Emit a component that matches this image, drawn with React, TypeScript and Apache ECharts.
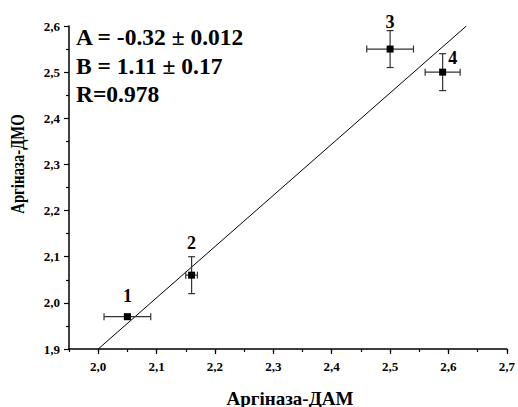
import React, { useEffect, useRef } from "react";
import * as echarts from "echarts";

// Measurements: arginase activity, ДАМ (x) vs ДМО (y)
const xVals = [2.05, 2.16, 2.5, 2.59];
const yVals = [1.97, 2.06, 2.55, 2.5];
const xErr = [0.04, 0.01, 0.04, 0.03];
const yErr = [0.005, 0.04, 0.04, 0.04];
const pointLabels = ["1", "2", "3", "4"];

// Linear fit y = A + B·x
const fitA = -0.32;
const fitB = 1.11;
const fitText = ["A = -0.32 ± 0.012", "B = 1.11 ± 0.17", "R=0.978"];

const xMin = 1.95;
const xMax = 2.7;
const yMin = 1.9;
const yMax = 2.6;
const xTicks = [2.0, 2.1, 2.2, 2.3, 2.4, 2.5, 2.6, 2.7];

const xTitle = "Аргіназа-ДАМ";
const yTitle = "Аргіназа-ДМО";

const SERIF = "Liberation Serif, Times New Roman, serif";

const labelStyle = [
  { distance: 8, offset: [0, 0] },
  { distance: 20, offset: [0, 0] },
  { distance: 15, offset: [0, 0] },
  { distance: 2, offset: [10, 0] },
];

const fmt = (v: number) => v.toFixed(1).replace(".", ",");

export default function App() {
  const ref = useRef<HTMLDivElement>(null);

  useEffect(() => {
    if (!ref.current) return;
    const chart = echarts.init(ref.current, null, { renderer: "svg" });

    const fitStartX = (yMin - fitA) / fitB;
    const fitEndX = (yMax - fitA) / fitB;
    const fitLine = [
      [fitStartX, fitA + fitB * fitStartX],
      [fitEndX, fitA + fitB * fitEndX],
    ];

    const axisText = {
      fontFamily: SERIF,
      fontWeight: "bold" as const,
      fontSize: 13,
      color: "#000",
    };

    chart.setOption({
      animation: false,
      grid: { left: 69, top: 26, right: 9, bottom: 58, containLabel: false },
      xAxis: [
        {
          type: "value",
          min: xMin,
          max: xMax,
          interval: 0.05,
          position: "bottom",
          axisLine: { show: true, lineStyle: { color: "#000", width: 1.5 } },
          axisTick: { show: true, length: 3, lineStyle: { color: "#000", width: 1.2 } },
          axisLabel: { show: false },
          splitLine: { show: false },
        },
        {
          type: "value",
          min: xMin,
          max: xMax,
          position: "bottom",
          axisLine: { show: false },
          axisTick: {
            show: true,
            length: 5,
            customValues: xTicks,
            lineStyle: { color: "#000", width: 1.2 },
          },
          axisLabel: {
            show: true,
            customValues: xTicks,
            margin: 11,
            formatter: fmt,
            ...axisText,
          },
          splitLine: { show: false },
        },
      ],
      yAxis: {
        type: "value",
        min: yMin,
        max: yMax,
        interval: 0.1,
        axisLine: { show: true, lineStyle: { color: "#000", width: 1.5 } },
        axisTick: { show: true, length: 5, lineStyle: { color: "#000", width: 1.2 } },
        minorTick: { show: true, splitNumber: 2, length: 3, lineStyle: { color: "#000", width: 1.2 } },
        axisLabel: { margin: 9, formatter: fmt, ...axisText },
        splitLine: { show: false },
      },
      series: [
        {
          type: "line",
          data: fitLine,
          showSymbol: false,
          symbol: "none",
          lineStyle: { color: "#000", width: 1 },
          z: 1,
          silent: true,
        },
        {
          type: "custom",
          z: 2,
          data: xVals.map((x, i) => [x, yVals[i], xErr[i], yErr[i]]),
          renderItem: (_params: any, api: any) => {
            const x = api.value(0);
            const y = api.value(1);
            const ex = api.value(2);
            const ey = api.value(3);
            const l = api.coord([x - ex, y]);
            const r = api.coord([x + ex, y]);
            const t = api.coord([x, y + ey]);
            const b = api.coord([x, y - ey]);
            const cap = 3.5;
            const style = { stroke: "#333", lineWidth: 1.2 };
            const seg = (x1: number, y1: number, x2: number, y2: number) => ({
              type: "line",
              shape: { x1, y1, x2, y2 },
              style,
            });
            return {
              type: "group",
              children: [
                seg(l[0], l[1], r[0], r[1]),
                seg(l[0], l[1] - cap, l[0], l[1] + cap),
                seg(r[0], r[1] - cap, r[0], r[1] + cap),
                seg(t[0], t[1], b[0], b[1]),
                seg(t[0] - cap, t[1], t[0] + cap, t[1]),
                seg(b[0] - cap, b[1], b[0] + cap, b[1]),
              ],
            };
          },
        },
        {
          type: "scatter",
          z: 3,
          symbol: "rect",
          symbolSize: 7,
          itemStyle: { color: "#000", opacity: 1 },
          label: {
            show: true,
            position: "top",
            fontFamily: SERIF,
            fontWeight: "bold",
            fontSize: 18,
            color: "#000",
            opacity: 1,
            textBorderWidth: 0,
            textBorderColor: "transparent",
          },
          data: xVals.map((x, i) => ({
            value: [x, yVals[i]],
            label: {
              distance: labelStyle[i].distance,
              offset: labelStyle[i].offset,
              formatter: pointLabels[i],
              color: "#000",
            },
          })),
        },
      ],
      graphic: [
        ...fitText.map((t, i) => ({
          type: "text",
          x: 76,
          y: 37 + i * 28.5,
          style: {
            text: t,
            x: 0,
            y: 0,
            align: "left",
            verticalAlign: "middle",
            font: `bold 23.5px ${SERIF}`,
            fill: "#000",
          },
        })),
        {
          type: "text",
          x: 290,
          y: 398,
          style: {
            text: xTitle,
            x: 0,
            y: 0,
            align: "center",
            verticalAlign: "middle",
            font: `bold 19px ${SERIF}`,
            fill: "#000",
          },
        },
        {
          type: "text",
          x: 18,
          y: 164,
          rotation: Math.PI / 2,
          scaleX: 0.78,
          style: {
            text: yTitle,
            x: 0,
            y: 0,
            align: "center",
            verticalAlign: "middle",
            font: `bold 19px ${SERIF}`,
            fill: "#000",
          },
        },
      ],
    });

    return () => chart.dispose();
  }, []);

  return (
    <div
      ref={ref}
      style={{ position: "fixed", left: 0, top: 0, width: 518, height: 407, background: "#fff" }}
    />
  );
}
